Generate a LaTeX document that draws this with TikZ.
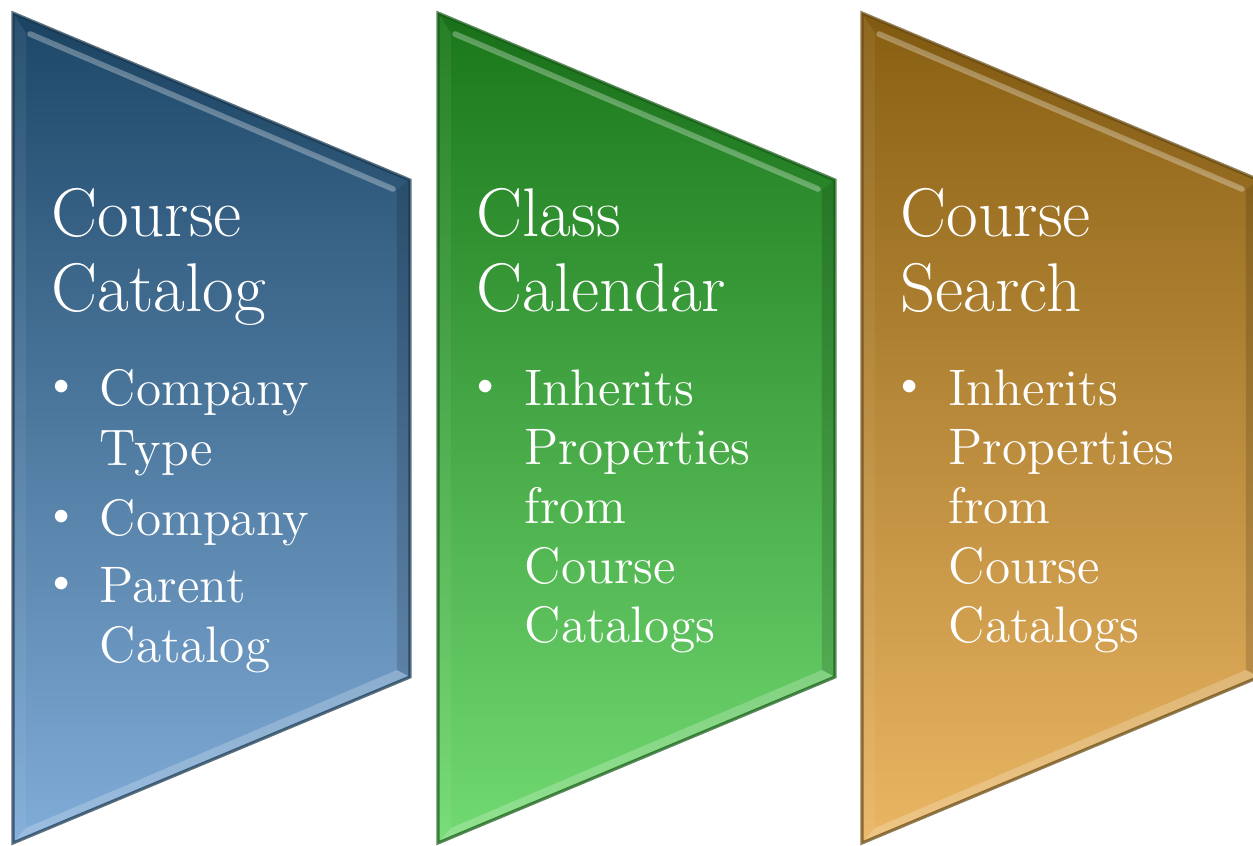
\documentclass[tikz,border=0pt]{standalone}
\usepackage{tikz}

\definecolor{catTop}{HTML}{1D4767}
\definecolor{catBot}{HTML}{80ACD8}
\definecolor{calTop}{HTML}{1A771A}
\definecolor{calBot}{HTML}{72DA72}
\definecolor{srchTop}{HTML}{885F12}
\definecolor{srchBot}{HTML}{EAB664}

\begin{document}
\begin{tikzpicture}[x=0.01cm, y=-0.01cm,
  title/.style={anchor=north west, inner sep=0pt, text=white, align=left,
    font=\fontsize{19.6}{21.34}\selectfont},
  itemtext/.style={anchor=north west, inner sep=0pt, text=white, align=left,
    font=\fontsize{14.6}{16.85}\selectfont},
  dot/.style={anchor=base, inner sep=0pt, text=white,
    font=\fontsize{9.5}{9.5}\selectfont}]
  \useasboundingbox (0,0) rectangle (1253,846);
  % Three bevelled chevron panels, 425px apart
  \foreach \o/\ct/\cb in {0/catTop/catBot, 425/calTop/calBot, 849/srchTop/srchBot} {
    \coordinate (tl) at (\o+13,13);
    \coordinate (tr) at (\o+410,180);
    \coordinate (br) at (\o+410,677);
    \coordinate (bl) at (\o+13,843);
    \coordinate (itl) at (\o+26,33);
    \coordinate (itr) at (\o+397,190);
    \coordinate (ibr) at (\o+397,670);
    \coordinate (ibl) at (\o+26,828);
    % soft drop shadow
    \foreach \s in {2,4,...,14} {
      \fill[black, opacity=0.055, shift={(\s,\s)}] (tl) -- (tr) -- (br) -- (bl) -- cycle;
    }
    % body with vertical gradient
    \shade[top color=\ct, bottom color=\cb] (tl) -- (tr) -- (br) -- (bl) -- cycle;
    % bevel faces
    \fill[black, opacity=0.05] (tl) -- (tr) -- (itr) -- (itl) -- cycle;
    \fill[white, opacity=0.06] (tl) -- (itl) -- (ibl) -- (bl) -- cycle;
    \fill[black, opacity=0.14] (tr) -- (br) -- (ibr) -- (itr) -- cycle;
    \fill[white, opacity=0.22] (bl) -- (ibl) -- (ibr) -- (br) -- cycle;
    \draw[white, opacity=0.30, line width=1.6pt, line cap=round]
      ([shift={(4,1)}]itl) -- ([shift={(-4,-1)}]itr);
    % outer rim
    \draw[\ct!75!black, opacity=0.7, line width=0.9pt] (tl) -- (tr) -- (br) -- (bl) -- cycle;
  }
  % Course Catalog panel
  \node[title] (catTitle) at (51,188) {Course\\Catalog};
  \node[dot] (catDotA) at (62,395) {$\bullet$};
  \node[itemtext] (catItemA) at (99,369) {Company\\Type};
  \node[dot] (catDotB) at (62,525) {$\bullet$};
  \node[itemtext] (catItemB) at (99,499) {Company};
  \node[dot] (catDotC) at (62,592) {$\bullet$};
  \node[itemtext] (catItemC) at (99,567) {Parent\\Catalog};
  % Class Calendar panel
  \node[title] (calTitle) at (476,188) {Class\\Calendar};
  \node[dot] (calDot) at (486,395) {$\bullet$};
  \node[itemtext] (calItem) at (524,369) {Inherits\\Properties\\from\\Course\\Catalogs};
  % Course Search panel
  \node[title] (srchTitle) at (900,188) {Course\\Search};
  \node[dot] (srchDot) at (910,395) {$\bullet$};
  \node[itemtext] (srchItem) at (948,369) {Inherits\\Properties\\from\\Course\\Catalogs};
\end{tikzpicture}
\end{document}
